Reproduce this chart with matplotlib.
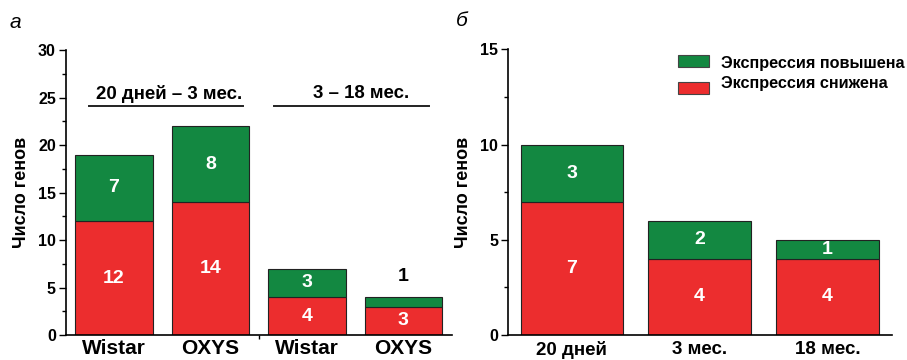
import matplotlib
matplotlib.use("Agg")
import matplotlib.pyplot as plt
from matplotlib.patches import Rectangle
import numpy as np

plt.rcParams['font.family'] = ['Liberation Sans', 'DejaVu Sans']
plt.rcParams['font.weight'] = 'bold'

# Panel a
a_labels = ["Wistar", "OXYS", "Wistar", "OXYS"]
a_down = [12, 14, 4, 3]
a_up = [7, 8, 3, 1]
a_groups = ["20 дней – 3 мес.", "3 – 18 мес."]

# Panel b
b_labels = ["20 дней", "3 мес.", "18 мес."]
b_down = [7, 4, 4]
b_up = [3, 2, 1]

legend_labels = ["Экспрессия повышена", "Экспрессия снижена"]
RED = "#EC2D2E"
GREEN = "#138841"

fig = plt.figure(figsize=(9.07, 3.6), dpi=100)
ax1 = fig.add_axes([0.0724, 0.0694, 0.4256, 0.7916])
ax2 = fig.add_axes([0.5598, 0.0694, 0.4232, 0.7936])

def style(ax, ymax, major, minor):
    for s in ["top", "right"]:
        ax.spines[s].set_visible(False)
    ax.spines["left"].set_linewidth(1.2)
    ax.spines["bottom"].set_linewidth(1.2)
    ax.set_ylim(0, ymax)
    ax.set_yticks(np.arange(0, ymax + 0.1, major))
    ax.set_yticks(np.arange(0, ymax + 0.1, minor), minor=True)
    ax.tick_params(axis='y', which='major', length=5, width=1.0, labelsize=11.5, pad=2)
    ax.tick_params(axis='y', which='minor', length=3, width=1.0)
    for t in ax.get_yticklabels():
        t.set_fontweight('bold')
    ax.set_ylabel("Число генов", fontsize=13, fontweight='bold', labelpad=6)

# Panel a
x1 = np.arange(1, len(a_labels) + 1)
ax1.bar(x1, a_down, width=0.8, color=RED, edgecolor='#222222', linewidth=0.8)
ax1.bar(x1, a_up, width=0.8, bottom=a_down, color=GREEN, edgecolor='#222222', linewidth=0.8)
ax1.set_xlim(0.5, 4.5)
style(ax1, 30, 5, 2.5)
ax1.set_xticks(x1)
ax1.set_xticklabels(a_labels, fontsize=15, fontweight='bold')
ax1.tick_params(axis='x', which='major', length=0, pad=3)
ax1.set_xticks([2.5], minor=True)
ax1.tick_params(axis='x', which='minor', length=3, width=1.0)
for i, (d, u) in enumerate(zip(a_down, a_up)):
    ax1.text(x1[i], d / 2, str(d), color='white', ha='center', va='center', fontsize=14, fontweight='bold')
    if u >= 2:
        ax1.text(x1[i], d + u / 2, str(u), color='white', ha='center', va='center', fontsize=14, fontweight='bold')
    else:
        ax1.text(x1[i], d + u + 2.2, str(u), color='black', ha='center', va='center', fontsize=14, fontweight='bold')
for g, (lo, hi), dx in zip(a_groups, [(0.74, 2.34), (2.66, 4.27)], [0.03, 0.1]):
    ax1.plot([lo, hi], [24.1, 24.1], color='#222222', lw=1.4, clip_on=False)
    ax1.text((lo + hi) / 2 + dx, 25.4, g, ha='center', va='center', fontsize=13.4, fontweight='bold')

# Panel b
x2 = np.arange(1, len(b_labels) + 1)
ax2.bar(x2, b_down, width=0.8, color=RED, edgecolor='#222222', linewidth=0.8)
ax2.bar(x2, b_up, width=0.8, bottom=b_down, color=GREEN, edgecolor='#222222', linewidth=0.8)
ax2.set_xlim(0.5, 3.5)
style(ax2, 15, 5, 2.5)
ax2.set_xticks(x2)
ax2.set_xticklabels(b_labels, fontsize=13.5, fontweight='bold')
ax2.tick_params(axis='x', which='major', length=0, pad=4.5)
for i, (d, u) in enumerate(zip(b_down, b_up)):
    ax2.text(x2[i], d / 2, str(d), color='white', ha='center', va='center', fontsize=14, fontweight='bold')
    ax2.text(x2[i], d + u / 2, str(u), color='white', ha='center', va='center', fontsize=14, fontweight='bold')

# Legend (drawn manually to match the original layout)
leg_rows = [(GREEN, 0.938, 0.952), (RED, 0.8435, 0.882)]
for (col, py, ty), lab in zip(leg_rows, legend_labels):
    ax2.add_patch(Rectangle((0.4435, py), 0.0805, 0.042, transform=ax2.transAxes,
                            facecolor=col, edgecolor='#444444', linewidth=0.8, clip_on=False))
    ax2.text(0.5555, ty, lab, transform=ax2.transAxes, ha='left', va='center',
             fontsize=11.7, fontweight='bold')

fig.text(10 / 907, 1 - 22 / 360, "а", fontsize=15, style='italic', fontweight='normal', va='center', ha='left')
fig.text(456 / 907, 1 - 21 / 360, "б", fontsize=15, style='italic', fontweight='normal', va='center', ha='left')

fig.savefig("out.png", dpi=100)
